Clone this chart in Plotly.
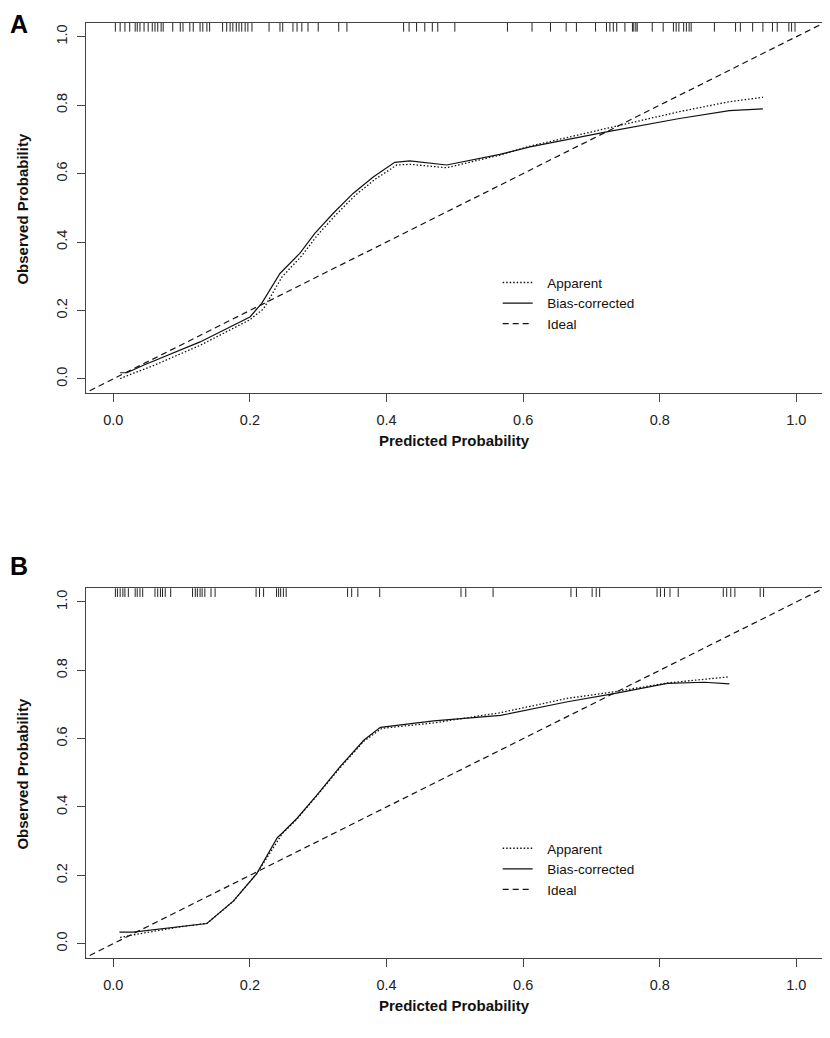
import plotly.graph_objects as go

# ---- panel A: calibration curves ----
a_app_x = [0.010, 0.060, 0.127, 0.200, 0.220, 0.247, 0.276, 0.298, 0.325, 0.354, 0.383,
           0.415, 0.435, 0.488, 0.566, 0.610, 0.722, 0.829, 0.902, 0.951]
a_app_y = [0.001, 0.040, 0.098, 0.173, 0.205, 0.298, 0.360, 0.418, 0.478, 0.536, 0.583,
           0.625, 0.627, 0.617, 0.654, 0.680, 0.732, 0.781, 0.810, 0.823]
a_bc_x = [0.010, 0.020, 0.044, 0.127, 0.200, 0.217, 0.244, 0.273, 0.295, 0.322, 0.351,
          0.380, 0.412, 0.434, 0.488, 0.566, 0.610, 0.722, 0.829, 0.902, 0.951]
a_bc_y = [0.018, 0.018, 0.040, 0.108, 0.181, 0.220, 0.308, 0.367, 0.425, 0.484, 0.542,
          0.589, 0.633, 0.637, 0.625, 0.656, 0.678, 0.722, 0.761, 0.784, 0.789]
a_rug = [0.003, 0.010, 0.017, 0.024, 0.032, 0.035, 0.039, 0.045, 0.051, 0.057, 0.061,
         0.065, 0.070, 0.073, 0.087, 0.098, 0.102, 0.112, 0.117, 0.127, 0.131, 0.137,
         0.141, 0.160, 0.166, 0.171, 0.175, 0.180, 0.184, 0.188, 0.193, 0.197, 0.203,
         0.228, 0.244, 0.248, 0.263, 0.269, 0.276, 0.285, 0.300, 0.330, 0.342, 0.425,
         0.433, 0.444, 0.456, 0.467, 0.475, 0.500, 0.577, 0.613, 0.640, 0.663, 0.678,
         0.706, 0.722, 0.727, 0.732, 0.737, 0.749, 0.760, 0.762, 0.765, 0.767, 0.789,
         0.805, 0.820, 0.824, 0.828, 0.835, 0.839, 0.843, 0.846, 0.880, 0.911, 0.918,
         0.936, 0.951, 0.965, 0.972, 0.989, 0.993, 0.998]

# ---- panel B ----
b_app_x = [0.010, 0.030, 0.100, 0.137, 0.176, 0.210, 0.247, 0.269, 0.298, 0.332, 0.367,
           0.393, 0.469, 0.567, 0.665, 0.733, 0.811, 0.860, 0.902]
b_app_y = [0.018, 0.026, 0.050, 0.059, 0.125, 0.205, 0.321, 0.365, 0.433, 0.515, 0.593,
           0.630, 0.646, 0.676, 0.718, 0.737, 0.763, 0.773, 0.781]
b_bc_x = [0.009, 0.029, 0.137, 0.176, 0.210, 0.240, 0.247, 0.269, 0.298, 0.332, 0.367,
          0.391, 0.469, 0.567, 0.665, 0.733, 0.811, 0.865, 0.902]
b_bc_y = [0.034, 0.034, 0.059, 0.125, 0.205, 0.310, 0.323, 0.367, 0.435, 0.518, 0.596,
          0.633, 0.652, 0.668, 0.708, 0.732, 0.762, 0.765, 0.760]
b_rug = [0.003, 0.006, 0.010, 0.014, 0.017, 0.022, 0.032, 0.035, 0.039, 0.043, 0.061,
         0.065, 0.069, 0.072, 0.076, 0.084, 0.116, 0.120, 0.123, 0.127, 0.130, 0.134,
         0.143, 0.149, 0.209, 0.214, 0.220, 0.239, 0.242, 0.245, 0.249, 0.253, 0.343,
         0.349, 0.358, 0.390, 0.509, 0.516, 0.556, 0.670, 0.678, 0.701, 0.707, 0.712,
         0.796, 0.801, 0.807, 0.815, 0.827, 0.893, 0.898, 0.904, 0.910, 0.947, 0.952]

ideal = [-0.1, 1.1]
ticks = [0.0, 0.2, 0.4, 0.6, 0.8, 1.0]
tick_text = ["0.0", "0.2", "0.4", "0.6", "0.8", "1.0"]
series_names = ["Apparent", "Bias-corrected", "Ideal"]
rug_y = 1.029

FONT = "Liberation Sans, Arial, sans-serif"
DOT = "1.5px,2px"
DASH = "6px,4px"
GAP = "\u2002\u2009"  # wider gap between legend key and label, like R's legend()

fig = go.Figure()

panels = [
    (a_app_x, a_app_y, a_bc_x, a_bc_y, a_rug, "x", "y", "legend"),
    (b_app_x, b_app_y, b_bc_x, b_bc_y, b_rug, "x2", "y2", "legend2"),
]
for app_x, app_y, bc_x, bc_y, rug, xa, ya, lg in panels:
    fig.add_trace(go.Scatter(x=rug, y=[rug_y] * len(rug), mode="markers", xaxis=xa, yaxis=ya,
                             marker=dict(symbol="line-ns", size=7,
                                         line=dict(width=1, color="#222")),
                             showlegend=False, hoverinfo="skip"))
    fig.add_trace(go.Scatter(x=app_x, y=app_y, mode="lines", name=GAP + series_names[0],
                             xaxis=xa, yaxis=ya, legend=lg,
                             line=dict(color="#111", width=1.3, dash=DOT)))
    fig.add_trace(go.Scatter(x=bc_x, y=bc_y, mode="lines", name=GAP + series_names[1],
                             xaxis=xa, yaxis=ya, legend=lg, line=dict(color="#111", width=1.2)))
    fig.add_trace(go.Scatter(x=ideal, y=ideal, mode="lines", name=GAP + series_names[2],
                             xaxis=xa, yaxis=ya, legend=lg,
                             line=dict(color="#111", width=1.2, dash=DASH)))

axis_common = dict(showgrid=False, zeroline=False, showline=True, linecolor="#444",
                   linewidth=1.2, mirror=True, ticks="outside", ticklen=8, tickwidth=1,
                   tickcolor="#444", tickvals=ticks, ticktext=tick_text,
                   tickfont=dict(family=FONT, size=14.5, color="#222"))

leg_common = dict(font=dict(family=FONT, size=13.5, color="#111"), bgcolor="rgba(0,0,0,0)",
                  itemwidth=30, tracegroupgap=0, xanchor="left", yanchor="top")

# page body has an 8px margin, so the figure is sized/shifted to land on the 830x1038 frame
fig.update_layout(
    width=822, height=1030,
    margin=dict(l=78, r=7, t=15, b=80),
    paper_bgcolor="white", plot_bgcolor="white",
    font=dict(family=FONT, color="#111"),
    xaxis=dict(domain=[0, 1], anchor="y", range=[-0.040, 1.039], ticklabelstandoff=5,
               **axis_common),
    yaxis=dict(domain=[0.604, 1.0], anchor="x", range=[-0.042, 1.040], tickangle=-90,
               ticklabelstandoff=4, **axis_common),
    xaxis2=dict(domain=[0, 1], anchor="y2", range=[-0.040, 1.039], ticklabelstandoff=5,
                **axis_common),
    yaxis2=dict(domain=[0.0, 0.3954], anchor="x2", range=[-0.042, 1.040], tickangle=-90,
                ticklabelstandoff=4, **axis_common),
    legend=dict(x=0.5586, y=0.7388, **leg_common),
    legend2=dict(x=0.5586, y=0.1337, **leg_common),
)

title_font = dict(family=FONT, size=15, color="#111")
notes = [
    dict(text="<b>Predicted Probability</b>", x=0.5, y=0.554, textangle=0),
    dict(text="<b>Predicted Probability</b>", x=0.5, y=-0.0503, textangle=0),
    dict(text="<b>Observed Probability</b>", x=-0.0862, y=0.802, textangle=-90),
    dict(text="<b>Observed Probability</b>", x=-0.0862, y=0.1977, textangle=-90),
]
for n in notes:
    fig.add_annotation(xref="paper", yref="paper", showarrow=False, xanchor="center",
                       yanchor="middle", font=title_font, **n)

letter_font = dict(family=FONT, size=25, color="#000")
fig.add_annotation(xref="paper", yref="paper", x=-0.1058, y=1.016, text="<b>A</b>",
                   showarrow=False, xanchor="left", yanchor="top", font=letter_font)
fig.add_annotation(xref="paper", yref="paper", x=-0.1058, y=0.419, text="<b>B</b>",
                   showarrow=False, xanchor="left", yanchor="middle", font=letter_font)

fig.write_html("out.html")
